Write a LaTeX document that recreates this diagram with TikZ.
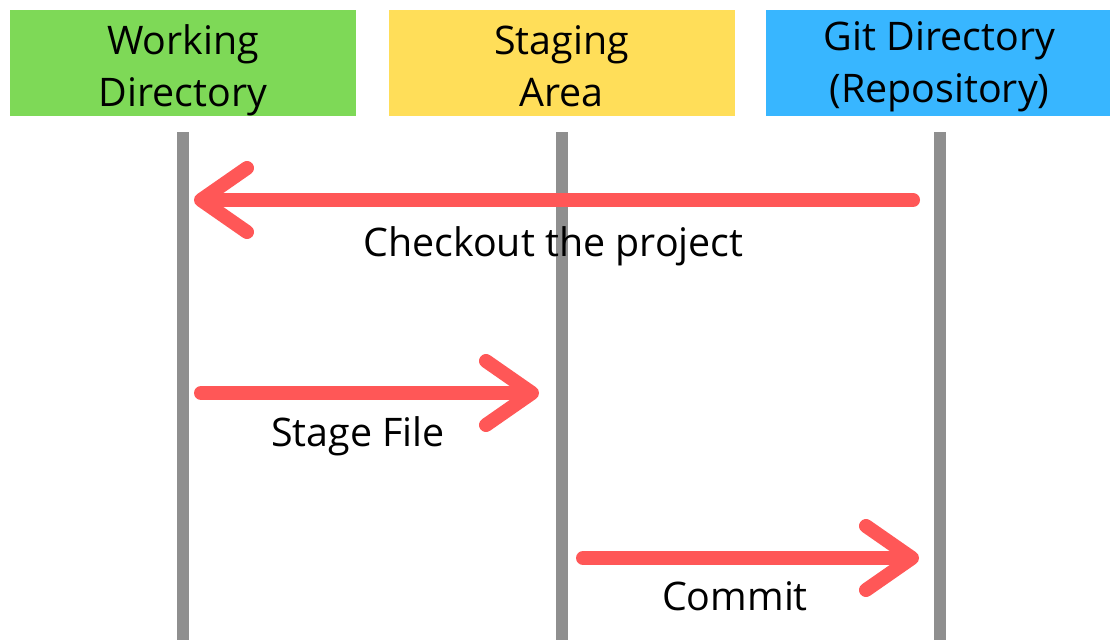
\documentclass[tikz,border=0pt]{standalone}
\usepackage{fontspec}
\setmainfont{Open Sans}
\usetikzlibrary{positioning,arrows.meta}

\definecolor{wdgreen}{HTML}{7ED957}
\definecolor{sayellow}{HTML}{FFDE59}
\definecolor{gdblue}{HTML}{38B6FF}
\definecolor{flowred}{HTML}{FF5757}
\definecolor{linegray}{HTML}{8F8F8F}

\tikzset{
  area/.style={rectangle,
    minimum width=8.65cm,
    minimum height=2.65cm},
  areatext/.style={align=center, yshift=-0.175cm},
  lifeline/.style={draw=linegray, line width=0.3cm},
  flow/.style={draw=flowred, line width=0.35cm, line cap=round,
    -{Straight Barb[length=1.15cm, width=1.6cm, round]}}
}

\begin{document}
\begin{tikzpicture}[x=0.025cm,y=-0.025cm,
  font=\fontsize{28}{37}\selectfont]

\useasboundingbox (0,0) rectangle (1110,639);

% Headers
\node[area, fill=wdgreen,
    label={[areatext]center:Working\\Directory}] (working) at (183,63) {};

\node[area, fill=sayellow,
    right=0.8cm of working,
    label={[areatext, yshift=0.1cm]center:Staging\\Area}] (staging) {};

\node[area, fill=gdblue,
    right=0.78cm of staging,
    label={[areatext, yshift=0.08cm]center:Git Directory\\(Repository)}] (gitdir) {};

% Lifelines
\draw[lifeline] ([yshift=-0.4cm]working.south) -- (working.south |- 0,650);
\draw[lifeline] ([yshift=-0.4cm]staging.south) -- (staging.south |- 0,650);
\draw[lifeline] ([yshift=-0.4cm]gitdir.south) -- (gitdir.south |- 0,650);

% Arrow ends
\coordinate (checkout1) at (913,200);
\coordinate (checkout2) at (194,200);
\coordinate (stage1) at (201,393);
\coordinate (stage2) at (539,393);
\coordinate (commit1) at (583,558);
\coordinate (commit2) at (919,558);

% Arrows
\draw[flow] (checkout1) -- (checkout2)
    node[midway, below=0.38cm] (checkoutlbl) {Checkout the project};
\draw[flow] (stage1) -- (stage2)
    node[midway, below=0.3cm, xshift=-0.3cm] (stagelbl) {Stage File};
\draw[flow] (commit1) -- (commit2)
    node[midway, below=0.3cm, xshift=-0.4cm] (commitlbl) {Commit};

\end{tikzpicture}
\end{document}
